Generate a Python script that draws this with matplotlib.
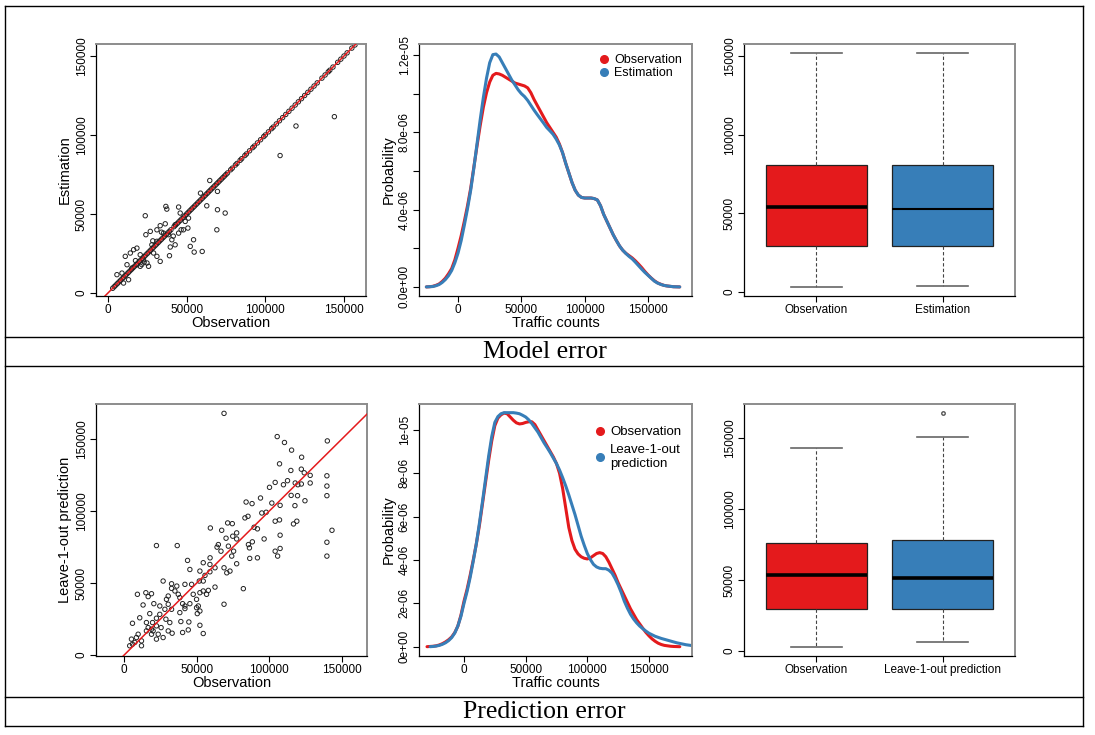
import matplotlib
matplotlib.use("Agg")
import matplotlib.pyplot as plt
from matplotlib.lines import Line2D

"""
Model error / prediction error panels: scatter, density and box plot of
observed vs estimated (and leave-1-out predicted) traffic counts.
"""

W, H = 1095, 735
RED = "#e41a1c"
BLUE = "#377eb8"

plt.rcParams["font.family"] = ["Liberation Sans", "DejaVu Sans"]

# ---------------- data ----------------
# top scatter: stations whose estimate equals the observation (on the 1:1 line)
top_exact = [3000, 4000, 5000, 6000, 7000, 8000, 9000, 10000, 11000, 12000, 13000, 14000,
             15000, 16000, 17000, 18000, 19000, 20000, 21000, 22000, 23000, 24000, 25000,
             26000, 27000, 28000, 29000, 30000, 31000, 32000, 33000, 34000, 35000, 36000,
             37000, 38000, 39000, 40000, 42000, 43000, 44000, 45000, 46000, 47000, 48000,
             49000, 50000, 51000, 52000, 53000, 54000, 55000, 56000, 57000, 58000, 59000,
             60000, 61000, 62000, 63000, 64000, 65000, 66000, 67000, 68000, 69000, 70000,
             71000, 72000, 73000, 74000, 75000, 76000, 78000, 79000, 81000, 82000, 84000,
             85000, 87000, 88000, 90000, 92000, 93000, 95000, 97000, 99000, 100000, 102000,
             104000, 105000, 107000, 109000, 111000, 113000, 115000, 117000, 119000, 121000,
             123000, 125000, 127000, 129000, 131000, 133000, 136000, 138000, 140000, 141000,
             143000, 146000, 148000, 150000, 152000, 155000, 157000]

# top scatter: stations off the 1:1 line
top_obs = [143900, 119500, 109400, 64700, 69600, 58800, 62800, 69600, 74500, 69200,
           54400, 52300, 54800, 59900, 36800, 37400, 44900, 23700, 45900, 51200,
           50800, 46500, 39600, 24100, 26900, 33200, 36400, 31100, 35300, 38500,
           40600, 42700, 39100, 33200, 31100, 29000, 12100, 8900, 5700, 11000,
           14200, 16300, 18400, 20500, 22600, 24800, 25800, 20500, 18400, 15200,
           9900, 13100, 27900, 31100, 44900, 48000, 42700, 49100, 21500, 23000,
           17500, 34000, 28500, 41500]
top_est = [111600, 105700, 87000, 71200, 64300, 63200, 55200, 52700, 50600, 40000,
           33700, 29500, 25900, 26300, 54800, 53100, 54400, 48900, 50600, 47400,
           41100, 40000, 29100, 36900, 39000, 42600, 43800, 40000, 37900, 36900,
           33700, 30500, 23600, 20000, 23200, 25300, 17900, 12600, 11600, 23200,
           25300, 27400, 28400, 24200, 21100, 19000, 16900, 16900, 17900, 15800,
           6300, 8400, 30500, 32700, 37900, 40000, 43200, 45300, 18000, 19500,
           20500, 38500, 33000, 36000]

# bottom scatter: observation vs leave-1-out prediction
loo_obs = [68800, 105400, 110400, 139900, 115300, 122200, 107000, 114800, 122000, 124000,
           128100, 128100, 139600, 139600, 139600, 112500, 109700, 117800, 119600, 122000,
           115000, 119400, 104000, 100100, 124500, 84000, 88100, 101700, 93900, 117600,
           107400, 94800, 97800, 85300, 83200, 71300, 74500, 104000, 107000, 116600,
           118900, 89500, 91800, 59400, 67200, 143100, 77500, 74800, 77500, 70200,
           96400, 107400, 71800, 64900, 22300, 36600, 85600, 86300, 88300, 139600,
           104000, 107400, 105700, 139600, 64000, 66700, 74100, 75400, 86500, 91800,
           59200, 43700, 54500, 59100, 77500, 62600, 68800, 72900, 70700, 45300,
           52200, 59100, 55700, 51800, 41900, 46500, 26900, 32700, 36300, 32700,
           35000, 9200, 15000, 18900, 16600, 30400, 37300, 38400, 49900, 56800,
           58000, 54500, 52200, 62600, 82100, 68800, 41900, 40300, 45300, 30400,
           32700, 20500, 13100, 24600, 41900, 51100, 38400, 28100, 17700, 24600,
           10800, 22300, 28800, 31500, 39100, 44600, 5800, 15400, 19600, 22300,
           25500, 52200, 44200, 30400, 40300, 54500, 33100, 18900, 15400, 23500,
           22300, 9700, 8500, 5100, 12000, 5800, 3900, 12000, 7400, 20000,
           18900, 16600, 26900, 29200, 47600, 50400, 52200, 49900, 54500]
loo_pred = [167700, 151600, 147500, 148600, 142200, 137300, 132700, 128100, 129000, 126500,
            124700, 119400, 124400, 117300, 110600, 121000, 118200, 119400, 118200, 118700,
            110800, 110600, 119800, 116400, 107100, 106200, 105100, 105500, 109000, 103700,
            103900, 98600, 99100, 96300, 95200, 91700, 91200, 92900, 93800, 91000,
            92900, 88700, 87600, 88200, 86600, 86600, 84800, 82500, 80600, 81100,
            80600, 83200, 75600, 76700, 76000, 76000, 76700, 74400, 78600, 78300,
            72100, 74000, 68700, 68700, 74900, 72100, 68700, 72100, 67100, 67500,
            67500, 65700, 64100, 62900, 63400, 60600, 60600, 58300, 57100, 59400,
            58300, 57800, 55300, 51400, 49100, 49100, 51400, 49500, 47900, 46300,
            44500, 42200, 43300, 42600, 40600, 41000, 42200, 39900, 38700, 42200,
            44900, 44500, 43300, 47200, 46100, 35300, 34100, 35700, 35700, 35300,
            31800, 35700, 34800, 34100, 32300, 34100, 29500, 31800, 28800, 28300,
            25900, 25600, 24900, 22600, 23300, 23000, 22100, 22600, 22600, 20300,
            19100, 20700, 17500, 16800, 15700, 15000, 15200, 18000, 16800, 14500,
            11100, 14500, 12200, 11100, 9900, 7600, 6500, 6500, 8800, 16800,
            14500, 19100, 12200, 38700, 42200, 28800, 30600, 32900, 51400]

# density curves, evaluated every 2500 counts (probability in units of 1e-6)
dens_top_x = list(range(-25000, 177500, 2500))
dens_top_obs = [0.0, 0.01, 0.03, 0.08, 0.15, 0.28, 0.45, 0.68, 0.95, 1.4,
                2.0, 2.65, 3.4, 4.2, 5.1, 6.2, 7.3, 8.35, 9.3, 10.05,
                10.6, 10.95, 11.05, 11.02, 10.95, 10.85, 10.75, 10.65, 10.55, 10.5,
                10.45, 10.4, 10.3, 10.05, 9.7, 9.4, 9.1, 8.8, 8.5, 8.25,
                8.0, 7.75, 7.4, 6.95, 6.4, 5.9, 5.4, 5.0, 4.75, 4.63,
                4.6, 4.6, 4.6, 4.57, 4.5, 4.2, 3.75, 3.4, 3.05, 2.7,
                2.4, 2.12, 1.9, 1.74, 1.62, 1.5, 1.35, 1.18, 1.0, 0.8,
                0.62, 0.46, 0.32, 0.21, 0.14, 0.08, 0.05, 0.03, 0.01, 0.005,
                0.0]
dens_top_est = [0.0, 0.01, 0.02, 0.06, 0.12, 0.23, 0.38, 0.58, 0.85, 1.25,
                1.75, 2.4, 3.2, 4.05, 5.0, 6.15, 7.4, 8.65, 9.8, 10.8,
                11.6, 12.02, 12.05, 11.9, 11.6, 11.3, 11.0, 10.7, 10.45, 10.2,
                10.0, 9.85, 9.65, 9.4, 9.15, 8.92, 8.7, 8.48, 8.25, 8.08,
                7.9, 7.65, 7.35, 6.95, 6.4, 5.9, 5.4, 5.0, 4.75, 4.63,
                4.6, 4.6, 4.6, 4.57, 4.5, 4.2, 3.75, 3.4, 3.05, 2.7,
                2.4, 2.12, 1.9, 1.73, 1.58, 1.45, 1.28, 1.1, 0.92, 0.75,
                0.6, 0.45, 0.3, 0.2, 0.13, 0.08, 0.05, 0.03, 0.01, 0.005,
                0.0]

dens_bot_x = list(range(-30000, 187500, 2500))
dens_bot_obs = [0.0, 0.01, 0.02, 0.04, 0.08, 0.14, 0.22, 0.32, 0.45, 0.65,
                0.95, 1.45, 2.1, 2.65, 3.3, 4.0, 4.75, 5.6, 6.6, 7.6,
                8.6, 9.5, 10.2, 10.55, 10.7, 10.78, 10.75, 10.6, 10.45, 10.33,
                10.28, 10.3, 10.35, 10.38, 10.38, 10.25, 10.0, 9.75, 9.5, 9.25,
                9.0, 8.75, 8.45, 8.0, 7.3, 6.4, 5.5, 4.9, 4.5, 4.28,
                4.15, 4.08, 4.05, 4.1, 4.2, 4.3, 4.34, 4.3, 4.15, 3.9,
                3.6, 3.3, 2.95, 2.65, 2.35, 2.05, 1.75, 1.5, 1.25, 1.05,
                0.85, 0.66, 0.5, 0.36, 0.25, 0.16, 0.1, 0.06, 0.04, 0.02,
                0.01, 0.005, 0.0]
dens_bot_loo = [None, 0.0, 0.01, 0.03, 0.06, 0.11, 0.18, 0.28, 0.42, 0.63,
                0.95, 1.4, 2.0, 2.55, 3.2, 3.95, 4.75, 5.7, 6.7, 7.75,
                8.8, 9.7, 10.35, 10.62, 10.75, 10.8, 10.8, 10.8, 10.8, 10.78,
                10.75, 10.68, 10.6, 10.47, 10.3, 10.1, 9.9, 9.65, 9.4, 9.18,
                8.95, 8.7, 8.45, 8.15, 7.8, 7.42, 7.0, 6.55, 6.1, 5.6,
                5.1, 4.68, 4.3, 4.02, 3.8, 3.68, 3.62, 3.6, 3.6, 3.53,
                3.4, 3.15, 2.85, 2.5, 2.1, 1.78, 1.5, 1.28, 1.1, 0.95,
                0.83, 0.72, 0.62, 0.55, 0.48, 0.43, 0.38, 0.34, 0.3, 0.26,
                0.22, 0.18, 0.15, 0.12, 0.09, 0.07, 0.05]

# box plot summaries
box_top_labels = ["Observation", "Estimation"]
box_top_whislo = [3400, 4000]
box_top_q1 = [29400, 29000]
box_top_med = [53800, 53000]
box_top_q3 = [80700, 80700]
box_top_whishi = [151900, 151900]

box_bot_labels = ["Observation", "Leave-1-out prediction"]
box_bot_whislo = [3000, 6100]
box_bot_q1 = [29400, 29400]
box_bot_med = [53600, 51700]
box_bot_q3 = [75900, 78000]
box_bot_whishi = [143400, 151100]
box_bot_fliers = [[], [167600]]

CAPTIONS = ["Model error", "Prediction error"]


def px_axes(fig, l, t, r, b):
    """Add an axes given its box in pixels from the top-left corner."""
    return fig.add_axes([l / W, 1 - b / H, (r - l) / W, (b - t) / H])


def r_style(ax):
    ax.spines["left"].set_color("black")
    ax.spines["bottom"].set_color("black")
    ax.spines["top"].set_color("#8c8c8c")
    ax.spines["right"].set_color("#8c8c8c")
    for s in ["top", "right"]:
        ax.spines[s].set_linewidth(1.4)
    for s in ["left", "bottom"]:
        ax.spines[s].set_linewidth(0.9)
    ax.tick_params(direction="out", length=4, width=0.8, labelsize=8.5, pad=2)
    for lab in ax.get_yticklabels():
        lab.set_rotation(90)
        lab.set_va("center")


def scatter_panel(ax, xs, ys, ylabel, xlim, ylim, extra=None):
    if extra is not None:
        ax.scatter(extra, extra, s=10, facecolors="none", edgecolors="#222222", linewidths=0.7, zorder=2)
    ax.scatter(xs, ys, s=10, facecolors="none", edgecolors="#222222", linewidths=0.7, zorder=2)
    ax.axline((0, 0), slope=1, color=RED, lw=1.1, zorder=3)
    ax.set_xlim(*xlim)
    ax.set_ylim(*ylim)
    ticks = [0, 50000, 100000, 150000]
    ax.set_xticks(ticks, [str(t) for t in ticks])
    ax.set_yticks(ticks, [str(t) for t in ticks])
    ax.set_xlabel("Observation", fontsize=10.5, labelpad=0)
    ax.set_ylabel(ylabel, fontsize=10.5, labelpad=3)
    r_style(ax)


def density_panel(ax, x, y1, y2, names, xlim, ylim, yticks, ylabels, leg_kw):
    for ys, col in [(y1, RED), (y2, BLUE)]:
        pts = [(a, b * 1e-6) for a, b in zip(x, ys) if b is not None]
        ax.plot([p[0] for p in pts], [p[1] for p in pts], color=col, lw=2.2,
                solid_joinstyle="round", solid_capstyle="round")
    ax.set_xlim(*xlim)
    ax.set_ylim(*ylim)
    ax.set_xticks([0, 50000, 100000, 150000], ["0", "50000", "100000", "150000"])
    ax.set_yticks(yticks, ylabels)
    ax.set_xlabel("Traffic counts", fontsize=10.5, labelpad=0)
    ax.set_ylabel("Probability", fontsize=10.5, labelpad=2)
    handles = [Line2D([], [], marker="o", ls="none", color=RED, markersize=5.5),
               Line2D([], [], marker="o", ls="none", color=BLUE, markersize=5.5)]
    ax.legend(handles, names, loc="upper right", frameon=False,
              handletextpad=0.2, handlelength=1.2, **leg_kw)
    r_style(ax)


def box_panel(ax, labels, whislo, q1, med, q3, whishi, fliers, ylim, med_lw):
    stats = []
    for i in range(len(labels)):
        stats.append(dict(label=labels[i], whislo=whislo[i], q1=q1[i], med=med[i],
                          q3=q3[i], whishi=whishi[i], fliers=fliers[i]))
    bp = ax.bxp(stats, widths=0.8, capwidths=0.4, patch_artist=True,
                boxprops=dict(edgecolor="#222222", linewidth=0.9),
                whiskerprops=dict(color="#444444", linestyle=(0, (3, 2)), linewidth=0.8),
                capprops=dict(color="#666666", linewidth=1.2),
                flierprops=dict(marker="o", markersize=2.5, markerfacecolor="none",
                                markeredgecolor="#555555"))
    for patch, col in zip(bp["boxes"], [RED, BLUE]):
        patch.set_facecolor(col)
    for line, lw in zip(bp["medians"], med_lw):
        line.set_color("black")
        line.set_linewidth(lw)
    ax.set_xlim(0.43, 2.57)
    ax.set_ylim(*ylim)
    ax.set_yticks([0, 50000, 100000, 150000], ["0", "50000", "100000", "150000"])
    r_style(ax)


def draw_frame(fig):
    def hline(y, x0=5, x1=1083):
        fig.add_artist(Line2D([x0 / W, x1 / W], [1 - y / H, 1 - y / H], color="black", lw=1.0))

    def vline(x, y0=6, y1=726):
        fig.add_artist(Line2D([x / W, x / W], [1 - y0 / H, 1 - y1 / H], color="black", lw=1.0))

    for y in [6, 337, 366, 697, 726]:
        hline(y)
    vline(5)
    vline(1083)
    fig.text(545 / W, 1 - 352 / H, CAPTIONS[0], ha="center", va="center",
             fontsize=18.5, family="Liberation Serif")
    fig.text(544 / W, 1 - 712 / H, CAPTIONS[1], ha="center", va="center",
             fontsize=18.5, family="Liberation Serif")


def main():
    fig = plt.figure(figsize=(W / 100, H / 100), dpi=100)

    ax1 = px_axes(fig, 96, 44, 366, 296)
    scatter_panel(ax1, top_obs, top_est, "Estimation", (-7600, 164000), (-1900, 157600), extra=top_exact)

    ax2 = px_axes(fig, 419, 44, 692, 296)
    density_panel(ax2, dens_top_x, dens_top_obs, dens_top_est, ["Observation", "Estimation"],
                  (-30800, 184700), (-4.7e-7, 1.257e-5),
                  [0, 2e-6, 4e-6, 6e-6, 8e-6, 1e-5, 1.2e-5],
                  ["0.0e+00", "", "4.0e-06", "", "8.0e-06", "", "1.2e-05"],
                  dict(fontsize=9, borderaxespad=0.4, labelspacing=0.1))

    ax3 = px_axes(fig, 744, 44, 1015, 296)
    box_panel(ax3, box_top_labels, box_top_whislo, box_top_q1, box_top_med, box_top_q3,
              box_top_whishi, [[], []], (-2500, 157600), [2.6, 1.5])

    ax4 = px_axes(fig, 96, 404, 367, 656)
    scatter_panel(ax4, loo_obs, loo_pred, "Leave-1-out prediction", (-19300, 167200), (-600, 174200))

    ax5 = px_axes(fig, 419, 404, 692, 656)
    density_panel(ax5, dens_bot_x, dens_bot_obs, dens_bot_loo, ["Observation", "Leave-1-out\nprediction"],
                  (-36500, 184900), (-4.3e-7, 1.12e-5),
                  [0, 2e-6, 4e-6, 6e-6, 8e-6, 1e-5],
                  ["0e+00", "2e-06", "4e-06", "6e-06", "8e-06", "1e-05"],
                  dict(fontsize=9.5, borderaxespad=0.4, labelspacing=0.45,
                       bbox_to_anchor=(1.0, 0.955)))

    ax6 = px_axes(fig, 744, 404, 1015, 656)
    box_panel(ax6, box_bot_labels, box_bot_whislo, box_bot_q1, box_bot_med, box_bot_q3,
              box_bot_whishi, box_bot_fliers, (-3500, 174200), [2.6, 2.6])

    draw_frame(fig)
    fig.savefig("out.png", dpi=100)


if __name__ == "__main__":
    main()
